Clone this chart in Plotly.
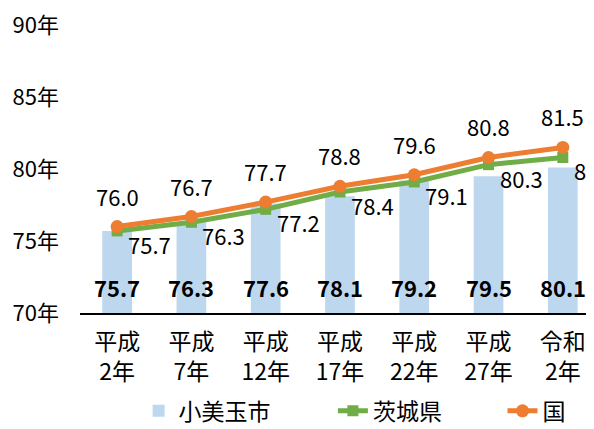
import plotly.graph_objects as go

categories = ["平成<br>2年", "平成<br>7年", "平成<br>12年", "平成<br>17年", "平成<br>22年", "平成<br>27年", "令和<br>2年"]
omitama = [75.7, 76.3, 77.6, 78.1, 79.2, 79.5, 80.1]
ibaraki = [75.7, 76.3, 77.2, 78.4, 79.1, 80.3, 80.8]
national = [76.0, 76.7, 77.7, 78.8, 79.6, 80.8, 81.5]
y_ticks = [70, 75, 80, 85, 90]
y_tick_labels = ["70年", "75年", "80年", "85年", "90年"]

FONT = "Noto Sans CJK JP"
fmt = lambda v: f"{v:.1f}"

fig = go.Figure()
fig.add_trace(go.Bar(
    x=categories, y=omitama, name="小美玉市", legend="legend",
    marker=dict(color="#BDD7EE", line=dict(width=0)), width=0.40,
))
fig.add_trace(go.Scatter(
    x=categories, y=ibaraki, name="茨城県", mode="lines+markers", legend="legend2",
    line=dict(color="#70AD47", width=5),
    marker=dict(symbol="square", size=11, color="#70AD47"),
    cliponaxis=False,
))
fig.add_trace(go.Scatter(
    x=categories, y=national, name="国", mode="lines+markers", legend="legend3",
    line=dict(color="#ED7D31", width=5),
    marker=dict(symbol="circle", size=13, color="#ED7D31"),
    cliponaxis=False,
))

lab_font = dict(family=FONT, size=22, color="#000")
for c, v in zip(categories, omitama):
    fig.add_annotation(x=c, y=70, text=f"<b>{fmt(v)}</b>", showarrow=False,
                       yanchor="bottom", yshift=8, font=lab_font)
for c, v in zip(categories, ibaraki):
    fig.add_annotation(x=c, y=v, text=fmt(v), showarrow=False,
                       xanchor="left", yanchor="middle", xshift=9, yshift=-13,
                       font=lab_font)
for c, v in zip(categories, national):
    fig.add_annotation(x=c, y=v, text=fmt(v), showarrow=False,
                       xanchor="center", yanchor="middle", yshift=31,
                       font=lab_font)

leg_common = dict(orientation="h", xanchor="left", y=-0.34, yanchor="middle",
                  font=dict(family=FONT, size=23, color="#000"),
                  bgcolor="rgba(0,0,0,0)")
# page body has an 8px default margin, so the figure is sized/offset to compensate
fig.update_layout(
    width=586, height=421,
    margin=dict(l=72, r=0, t=17, b=116, autoexpand=False),
    paper_bgcolor="white", plot_bgcolor="white",
    font=dict(family=FONT, size=22, color="#000"),
    showlegend=True,
    legend=dict(x=0.114, **leg_common),
    legend2=dict(x=0.492, **leg_common),
    legend3=dict(x=0.822, **leg_common),
)
fig.update_xaxes(range=[-0.5, 6.42], showline=True, linecolor="#000", linewidth=1.5,
                 ticks="", showgrid=False, automargin=False, ticklabelstandoff=8,
                 ticklabeloverflow="allow",
                 tickfont=dict(family=FONT, size=23))
fig.update_yaxes(range=[70, 90], tickmode="array", tickvals=y_ticks, ticktext=y_tick_labels,
                 showgrid=False, zeroline=False, showline=False, ticks="",
                 ticklabelstandoff=20, automargin=False, ticklabeloverflow="allow",
                 tickfont=dict(family=FONT, size=22))

fig.write_html("out.html")
